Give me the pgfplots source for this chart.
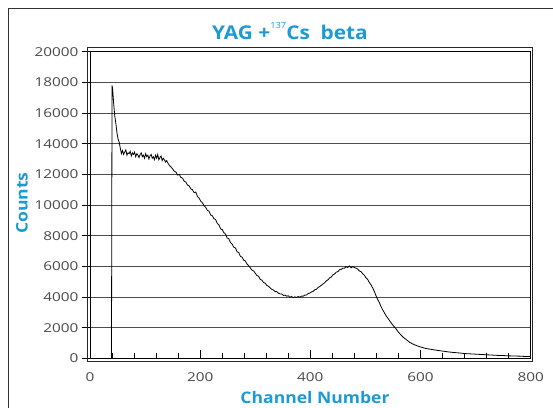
\documentclass[border=0pt]{standalone}
\usepackage{fontspec}
\setmainfont{Open Sans}[FakeStretch=1.1]
\newfontfamily\tickfont{Open Sans}[FakeStretch=1.25]
\usepackage{pgfplots}
\pgfplotsset{compat=1.18}
\definecolor{titleblue}{HTML}{1D9AD6}
\definecolor{ticktext}{HTML}{4A4A4A}

\pgfplotstableread{
x y
39 0
40 17800
41 17600
43 16600
45 15800
47 15300
49 14700
51 14300
53 14100
55 13700
57 13350
59 13550
61 13300
63 13450
65 13600
67 13250
69 13400
71 13350
73 13500
75 13200
77 13400
79 13300
81 13450
83 13150
85 13350
87 13250
89 13100
91 13300
93 13400
95 13150
97 13250
99 13050
101 13350
103 13150
105 13250
107 13000
109 13200
111 13300
113 13050
115 13150
117 12950
119 13250
121 13050
123 13300
125 12950
127 13100
129 13200
131 12900
133 13050
135 12950
137 12800
139 12900
142 12700
145 12550
148 12450
150 12350
153 12200
156 12150
159 11950
162 12000
165 11800
168 11750
171 11550
174 11500
177 11300
180 11250
183 11050
186 11000
189 10800
192 10850
195 10550
198 10450
201 10250
204 10150
207 9950
210 9850
213 9650
216 9600
219 9350
222 9300
225 9100
228 9050
231 8800
234 8700
237 8450
240 8400
243 8200
246 8100
249 7850
252 7800
255 7550
258 7450
261 7250
264 7200
267 6950
270 6900
273 6650
276 6600
279 6400
282 6350
285 6150
288 6050
291 5900
294 5750
297 5700
300 5550
303 5400
306 5350
309 5150
312 5100
315 4950
318 4900
321 4750
324 4700
327 4600
330 4500
333 4450
336 4350
339 4350
342 4250
345 4200
348 4200
351 4100
354 4120
357 4050
360 4080
363 3980
366 4030
369 3950
372 4010
375 3970
378 4030
381 3990
384 4060
387 4050
390 4120
393 4130
396 4220
399 4250
402 4330
405 4360
408 4470
411 4500
414 4620
417 4680
420 4760
423 4850
426 4930
429 5050
432 5120
435 5250
438 5300
441 5450
444 5500
447 5620
450 5650
453 5780
456 5800
459 5880
462 5870
465 5980
468 5920
471 6020
474 5900
477 5980
480 5920
483 5880
486 5820
489 5700
492 5650
495 5520
498 5420
501 5250
504 5150
507 4950
510 4800
513 4600
516 4380
519 4100
522 3850
525 3650
528 3400
531 3180
534 3000
537 2800
540 2650
545 2400
550 2150
555 1950
560 1700
565 1500
570 1330
575 1200
580 1050
585 950
590 870
595 800
600 740
610 640
620 580
630 520
640 470
650 420
660 380
670 350
680 310
690 290
700 270
710 250
720 230
730 210
740 190
750 180
760 160
770 150
780 140
790 120
800 110
}\spectrum

\begin{document}
\begin{tikzpicture}
\useasboundingbox (0,0) rectangle (553bp,408bp);
\draw[line width=0.8bp, black!80] (8bp,0) -- (8bp,400bp) -- (553bp,400bp);
\begin{axis}[
  at={(90bp,49.7bp)}, anchor=south west,
  scale only axis, width=440.7bp, height=306.6bp,
  xmin=0, xmax=800, ymin=0, ymax=20000,
  xtick={0,200,...,800}, ytick={0,2000,...,20000},
  minor x tick num=4,
  xtick pos=bottom, ytick pos=left,
  xtick align=inside, ytick align=outside,
  major tick length=8bp, minor tick length=5bp,
  ymajorgrids,
  major grid style={line width=0.8bp, black!70},
  axis line style={line width=1bp, black},
  tick style={line width=0.6bp, black},
  ticklabel style={font=\tickfont\fontsize{12.3}{13}\selectfont, text=ticktext},
  /pgf/number format/assume math mode=true,
  /pgf/number format/1000 sep={},
  scaled y ticks=false,
  xticklabel style={yshift=-11bp},
  clip=false,
]
\addplot[black, line width=0.8bp] table[x=x, y=y] {\spectrum};
\draw[line width=0.7bp, black!85]
  ([xshift=-2.3bp, yshift=-3.4bp]rel axis cs:0,0) rectangle
  ([xshift=2bp, yshift=4.5bp]rel axis cs:1,1);
\end{axis}
\node[font=\bfseries\fontsize{19}{21}\selectfont, text=titleblue] at (290bp,377bp)
  {YAG +\raisebox{1.1ex}{\mdseries\fontsize{8.5}{9}\selectfont 137}Cs\ \ beta};
\node[rotate=90, font=\bfseries\fontsize{16}{17}\selectfont, text=titleblue] at (22bp,205bp) {Counts};
\node[font=\bfseries\fontsize{16}{17}\selectfont, text=titleblue] at (315bp,10bp) {Channel Number};
\end{tikzpicture}
\end{document}
